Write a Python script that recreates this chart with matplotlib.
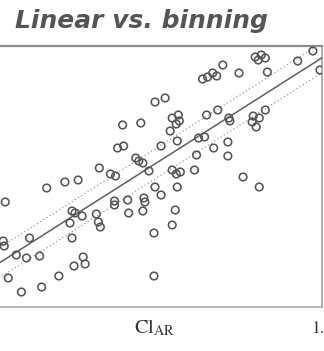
import matplotlib
matplotlib.use('Agg')
import matplotlib.pyplot as plt
import numpy as np

plt.rcParams['mathtext.fontset'] = 'stix'

# scatter values (x = Cl_AR)
cl_ar = [1.236, 1.260, 1.276, 1.248, 1.464, 1.492, 1.404, 1.108, 1.172, 1.284,
         1.028, 1.048, 1.068, 1.084, 0.880, 0.840, 0.908, 0.932, 0.936, 0.924,
         1.044, 1.088, 1.132, 1.136, 1.228, 1.252, 1.276, 1.224, 1.240, 0.900,
         0.928, 0.864, 1.012, 1.036, 1.072, 1.128, 1.128, 1.004, 0.712, 0.784,
         0.692, 0.716, 0.764, 0.776, 0.792, 0.816, 0.664, 0.684, 0.620, 0.908,
         0.924, 0.940, 0.996, 1.188, 1.252, 0.928, 0.840, 0.864, 0.920, 0.908,
         0.412, 0.484, 0.536, 0.248, 0.512, 0.524, 0.552, 0.608, 0.616, 0.624,
         0.680, 0.680, 0.732, 0.736, 0.796, 0.800, 0.792, 0.504, 0.512, 0.836,
         0.240, 0.244, 0.344, 0.292, 0.332, 0.384, 0.556, 0.564, 0.520, 0.460,
         0.260, 0.312, 0.392, 0.836]
binned = [1.250, 1.260, 1.245, 1.235, 1.280, 1.185, 1.230, 1.210, 1.170, 1.175,
          1.140, 1.150, 1.170, 1.155, 1.045, 1.025, 0.945, 0.960, 0.930, 0.915,
          0.960, 0.985, 0.945, 0.930, 0.955, 0.945, 0.985, 0.925, 0.900, 0.880,
          0.830, 0.805, 0.845, 0.850, 0.795, 0.825, 0.755, 0.760, 0.910, 0.920,
          0.795, 0.805, 0.745, 0.730, 0.720, 0.680, 0.665, 0.655, 0.695, 0.685,
          0.665, 0.675, 0.685, 0.650, 0.600, 0.600, 0.600, 0.560, 0.485, 0.410,
          0.595, 0.625, 0.635, 0.525, 0.480, 0.470, 0.455, 0.465, 0.425, 0.400,
          0.530, 0.510, 0.535, 0.470, 0.545, 0.525, 0.480, 0.420, 0.345, 0.370,
          0.330, 0.305, 0.345, 0.260, 0.245, 0.255, 0.250, 0.215, 0.205, 0.155,
          0.145, 0.075, 0.100, 0.155]

# linear fit and band
fit_slope = 0.804
fit_intercept = 0.040
band = 0.075

x_range = [0.212, 1.5]
y_range = [0.0, 1.305]

fig = plt.figure(figsize=(3.24, 3.51), dpi=100)
ax = fig.add_axes([-0.012, 1 - 307 / 351, 322 / 324 + 0.012, 261 / 351])

xs = np.array(x_range)
fit = fit_slope * xs + fit_intercept
ax.plot(xs, fit, color='#5e5e5e', lw=1.1, zorder=3)
ax.plot(xs, fit + band, color='#999999', lw=0.9, ls=(0, (1, 2)), zorder=3)
ax.plot(xs, fit - band, color='#999999', lw=0.9, ls=(0, (1, 2)), zorder=3)

ax.scatter(cl_ar, binned, s=30, facecolors='none', edgecolors='#555555',
           linewidths=1.15, zorder=4)

ax.set_xlim(*x_range)
ax.set_ylim(*y_range)

ax.spines['left'].set_visible(False)
ax.spines['top'].set_color('#8c8c8c')
ax.spines['top'].set_linewidth(1.6)
ax.spines['bottom'].set_color('#a8a8a8')
ax.spines['bottom'].set_linewidth(1.2)
ax.spines['right'].set_color('#a0a0a0')
ax.spines['right'].set_linewidth(1.2)

ax.set_yticks([])
ax.set_xticks([1.5])
ax.set_xticklabels(['1.5'], fontfamily='STIXGeneral', fontsize=12.5, color='#333333')
ax.tick_params(axis='x', length=0, pad=10)

ax.set_xlabel(r'$\mathrm{Cl}_{\mathrm{AR}}$', fontsize=14.5, color='#333333')
ax.xaxis.set_label_coords(0.485, -0.04)

fig.text(15 / 324, 1 - 21 / 351, 'Linear vs. binning', fontsize=18,
         fontweight='bold', fontstyle='italic', family='DejaVu Sans',
         color='#555555', va='center', ha='left')

fig.savefig('out.png', dpi=100)
